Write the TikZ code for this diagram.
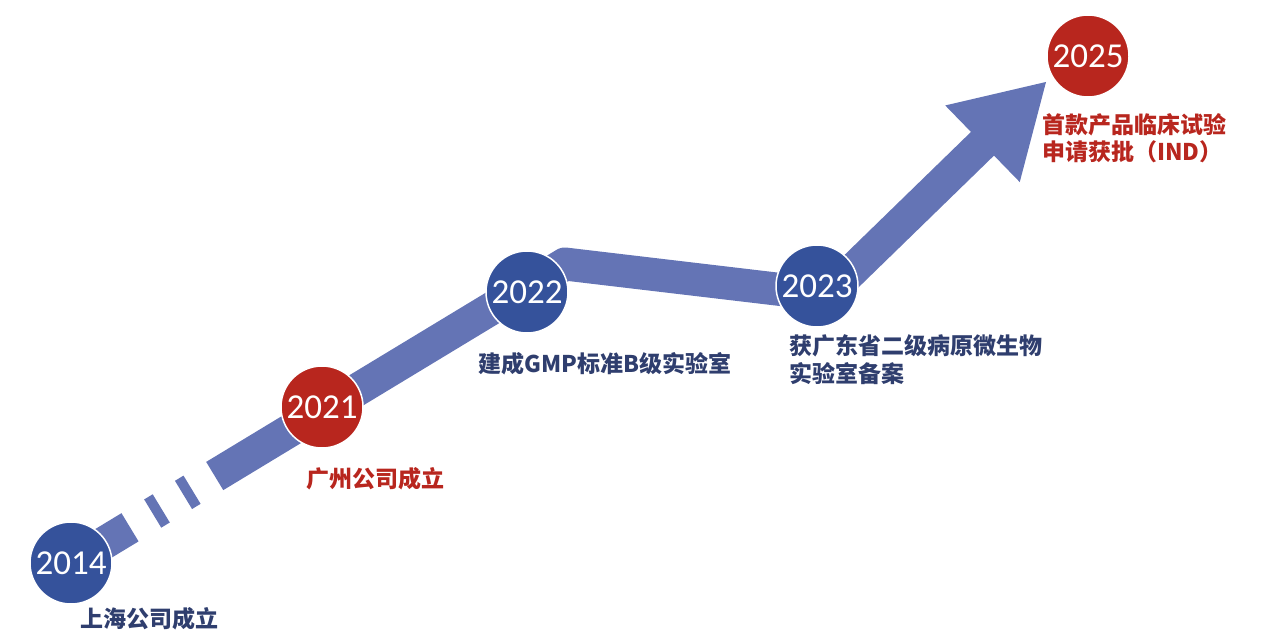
\documentclass[tikz,border=0pt]{standalone}
\usepackage{fontspec}
\newfontfamily\yearfont{Carlito}
\newfontfamily\cjkfont{Noto Sans CJK SC}
\usetikzlibrary{calc}
\usetikzlibrary{arrows.meta}
\pgfdeclarelayer{bandbg}
\pgfsetlayers{bandbg,main}
\definecolor{yearblue}{HTML}{35529B}
\definecolor{yearred}{HTML}{B8261E}
\definecolor{bandblue}{HTML}{6474B5}
\definecolor{tagblue}{HTML}{2F3E6E}
\tikzset{
	year/.style={circle, minimum size=82pt, inner sep=0pt, draw=white, line width=1.5pt, text=white, font=\yearfont\fontsize{35}{35}\selectfont},
	tag/.style={anchor=west, inner sep=0pt, align=left, font=\cjkfont\bfseries\fontsize{23}{27.5}\selectfont},
	band/.style={draw=bandblue, line width=33pt, line join=round},
}

\begin{document}
\begin{tikzpicture}[x=1pt,y=-1pt]
	\useasboundingbox (0,0) rectangle (1269,643);
	\node [year, fill=yearblue] at (71,563) (y2014) {2014}; \node [year, fill=yearred] at (322,407) (y2021) {2021};
	\node [year, fill=yearblue] at (527,292) (y2022) {2022}; \node [year, fill=yearblue] at (817,286) (y2023) {2023};
	\node [year, fill=yearred] at (1088,56) (y2025) {2025};
	
	\node [tag, text=tagblue] at (80,619) (t2014) {上海公司成立}; \node [tag, text=yearred] at (306,479) (t2021) {广州公司成立};
	\node [tag, text=tagblue] at (478,364) (t2022) {建成GMP标准B级实验室};
	\node [tag, text=tagblue] at (789,359.5) (t2023) {获广东省二级病原微生物\\实验室备案};
	\node [tag, text=yearred] at (1042,138) (t2025) {首款产品临床试验\\申请获批（IND）};
	
	\coordinate (bend) at (565,264); \coordinate (knee) at (827,295); \coordinate (tip) at (1047,81);
	\begin{pgfonlayer}{bandbg}
	\draw [band, dash pattern=on 69pt off 26.5pt on 10pt off 26pt on 10pt off 26.5pt on 5000pt, -{Triangle[length=90pt,width=100pt]}] (y2014.center) -- (bend) -- (knee) -- (tip);
	\end{pgfonlayer}
\end{tikzpicture}
\end{document}
